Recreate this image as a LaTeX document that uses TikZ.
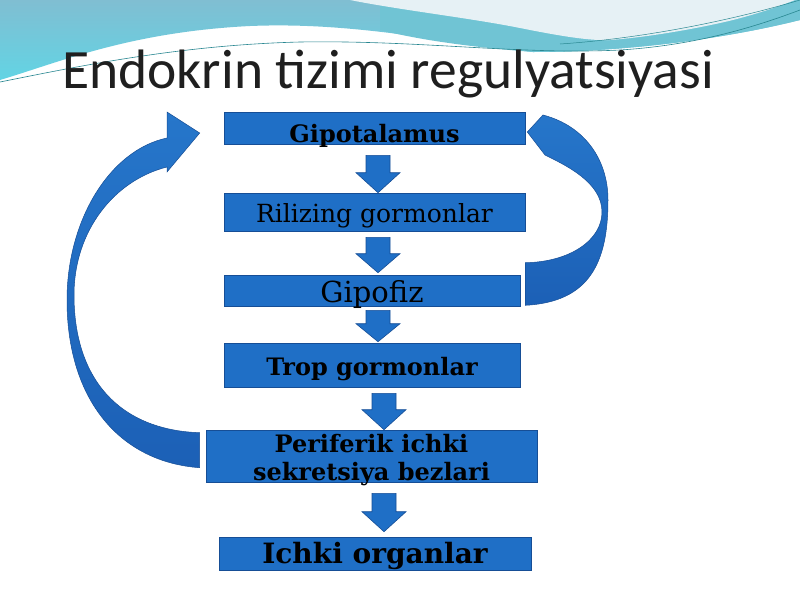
\documentclass[tikz,border=0pt]{standalone}
\usepackage{fontspec}
\newfontfamily\titlefont{Carlito}
\newfontfamily\boxfont{DejaVu Serif}
\usetikzlibrary{calc}
\definecolor{boxblue}{RGB}{31,111,198}
\definecolor{boxedge}{RGB}{22,78,150}
\definecolor{arrlight}{RGB}{38,118,202}
\definecolor{arrdark}{RGB}{28,96,182}
\definecolor{tealtop}{RGB}{128,190,210}
\definecolor{cyanlow}{RGB}{98,212,228}
\definecolor{bandteal}{RGB}{112,196,212}
\definecolor{blobwhite}{RGB}{230,241,245}
\definecolor{waveline}{RGB}{40,135,145}
\tikzset{
  box/.style={rectangle, fill=boxblue, draw=boxedge, line width=0.6pt, inner sep=0pt, text=black},
  downarr/.style={fill=boxblue, draw=boxedge, line width=0.6pt},
  curvearr/.style={top color=arrlight, bottom color=arrdark, draw=boxedge, line width=0.5pt},
}
\newcommand{\blockarr}[6]{%
  \path[downarr] let \p1=(#1.south), \p2=(#2.north) in
  (\x1+#3-12pt,\y1-#4) -- (\x1+#3+12pt,\y1-#4) -- (\x1+#3+12pt,\y2+#5+#6) --
  (\x1+#3+22pt,\y2+#5+#6) -- (\x1+#3,\y2+#5) -- (\x1+#3-22pt,\y2+#5+#6) --
  (\x1+#3-12pt,\y2+#5+#6) -- cycle;}
\begin{document}
\begin{tikzpicture}[x=1pt,y=-1pt]
\useasboundingbox (0,0) rectangle (800,600);
\fill[white] (0,0) rectangle (800,600);
% background wave
\shade[top color=tealtop, bottom color=cyanlow] (0,0) -- (800,0) -- (800,20)
  .. controls (720,40) and (620,52) .. (533,52)
  .. controls (430,40) and (350,22) .. (250,26)
  .. controls (130,32) and (60,62) .. (0,80) -- cycle;
\fill[bandteal] (380,0) -- (800,0) -- (800,20) .. controls (720,40) and (620,52) .. (533,52)
  .. controls (470,47) and (420,40) .. (380,30) -- cycle;
\fill[blobwhite] (350,0) .. controls (400,10) and (470,18) .. (520,28)
  .. controls (560,36) and (590,41) .. (610,40) .. controls (650,37) and (700,28) .. (733,20)
  .. controls (760,13) and (780,6) .. (795,0) -- cycle;
\draw[waveline, line width=0.6pt] (0,82) .. controls (80,66) and (180,45) .. (300,42)
  .. controls (420,40) and (520,55) .. (620,50) .. controls (700,45) and (760,25) .. (800,10);
\draw[waveline, line width=0.5pt] (560,44) .. controls (650,38) and (740,18) .. (800,0);
% title
\node[font=\titlefont\fontsize{55.5}{60}\selectfont, anchor=base, text=black!88] (title) at (388,88) {Endokrin tizimi regulyatsiyasi};
% boxes
\node[box, minimum width=301pt, text height=30pt, text depth=2pt,
  font=\boxfont\bfseries\fontsize{24}{28}\selectfont] (g) at (374.5,128) {Gipotalamus};
\node[box, minimum width=301pt, text height=29pt, text depth=9pt,
  font=\boxfont\fontsize{25}{29}\selectfont] (r) at (374.5,212) {Rilizing gormonlar};
\node[box, minimum width=296pt, text height=27pt, text depth=4pt,
  font=\boxfont\fontsize{29}{33}\selectfont] (f) at (372,290.5) {Gipofiz};
\node[box, minimum width=296pt, text height=32pt, text depth=12pt,
  font=\boxfont\bfseries\fontsize{24}{28}\selectfont] (t) at (372,365) {Trop gormonlar};
\node[box, minimum width=331pt, text height=22pt, text depth=30pt,
  font=\boxfont\bfseries\fontsize{24}{28}\selectfont] (p) at (371.5,456)
  {\begin{tabular}[t]{@{}c@{}}Periferik ichki\\sekretsiya bezlari\end{tabular}};
\node[box, minimum width=312pt, text height=26pt, text depth=7pt,
  font=\boxfont\bfseries\fontsize{28}{32}\selectfont] (o) at (375,553.5) {Ichki organlar};
% down arrows
\blockarr{g}{r}{3.5pt}{11pt}{0pt}{20pt}
\blockarr{r}{f}{3.5pt}{6pt}{2pt}{19pt}
\blockarr{f}{t}{6pt}{4pt}{1pt}{18pt}
\blockarr{t}{p}{12pt}{6pt}{0pt}{20pt}
\blockarr{p}{o}{12.5pt}{11pt}{5pt}{20pt}
% left curved feedback arrow
\shade[curvearr] ($(p.north west)+(-6,38)$) .. controls (120,462) and (67,400) .. (67,300)
  .. controls (67,220) and (110,150) .. (167,138) -- (167,112) -- ($(g.west)+(-24,5)$)
  -- (167,172) -- (167,167) .. controls (115,180) and (74,230) .. (74,295)
  .. controls (74,380) and (120,430) .. ($(p.north west)+(-6,3)$) -- cycle;
% right curved arrow
\shade[curvearr] ($(g.east)+(2,4)$) -- (543,115) .. controls (585,126) and (608,160) .. (608,200)
  .. controls (608,262) and (590,302) .. ($(f.south east)+(5,-1)$) -- ($(f.north east)+(5,-12)$)
  .. controls (570,262) and (602,240) .. (602,212) .. controls (602,182) and (565,165) .. (545,155)
  -- cycle;
\end{tikzpicture}
\end{document}
